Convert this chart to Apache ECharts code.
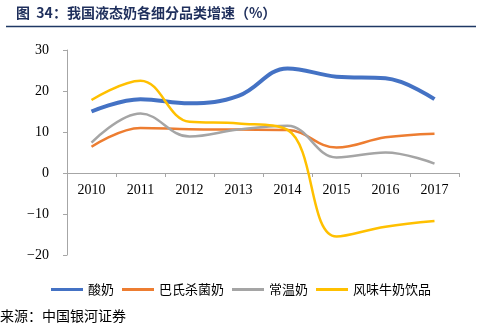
<!DOCTYPE html>
<html><head><meta charset="utf-8">
<script src="https://cdn.jsdelivr.net/npm/echarts@6/dist/echarts.min.js"></script>
<style>html,body{margin:0;padding:0;background:#fff}#c{width:477px;height:327px}</style>
</head><body><div id="c"></div>
<script>
const categories = ['2010','2011','2012','2013','2014','2015','2016','2017'];
const yogurt = [15.0, 18.0, 17.0, 18.8, 25.5, 23.5, 23.1, 18.0];
const pasteurized = [6.4, 11.0, 10.7, 10.6, 10.5, 6.2, 8.7, 9.6];
const ambient = [7.4, 14.5, 8.9, 10.6, 11.5, 3.8, 5.0, 2.3];
const flavored = [17.8, 22.5, 12.5, 12.1, 10.5, -15.5, -13.1, -11.7];
const seriesNames = ['酸奶','巴氏杀菌奶','常温奶','风味牛奶饮品'];
const yTicks = [-20, -10, 0, 10, 20, 30];

const colors = ['#4472c4','#ed7d31','#a5a5a5','#ffc000'];
const widths = [4, 2.5, 2.5, 2.5];
const gridTop = 50, gridBottom = 72, H = 327;
const yMin = yTicks[0], yMax = yTicks[yTicks.length-1];
const plotH = H - gridTop - gridBottom;
const zeroFromBottom = plotH * (0 - yMin) / (yMax - yMin);

const chart = echarts.init(document.getElementById('c'), null, {renderer:'canvas'});
const serif = '"Liberation Serif","DejaVu Serif",serif';
const cjk = '"Noto Sans CJK SC","Noto Sans",sans-serif';
function mk(i, data){
  return {name:seriesNames[i], type:'line', data, smooth:0.4, symbol:'none', showSymbol:false,
    lineStyle:{color:colors[i], width:widths[i]}, itemStyle:{color:colors[i]}};
}
chart.setOption({
  animation:false,
  title:{text:'图  34：我国液态奶各细分品类增速（%）', left:16, top:6, padding:0,
    textStyle:{fontFamily:cjk, fontSize:14, fontWeight:'bold', color:'#1f2f5c'}},
  graphic:[
    {type:'line', shape:{x1:6,y1:26.5,x2:476,y2:26.5}, style:{stroke:'#1f3864', lineWidth:1.5}},
    {type:'text', left:0, top:309, style:{text:'来源：中国银河证券', font:'14px "Noto Sans CJK SC"', fill:'#000'}}
  ],
  grid:{left:67, right:18, top:gridTop, bottom:gridBottom},
  legend:{left:46, top:278, itemWidth:32, itemHeight:3, itemGap:8,
    data:seriesNames.map((n,i)=>({name:n, icon:'rect', itemStyle:{color:colors[i]}})),
    textStyle:{fontFamily:cjk, fontSize:13, color:'#000'}},
  xAxis:[{type:'category', data:categories, boundaryGap:true,
    axisLine:{onZero:true, lineStyle:{color:'#a6a6a6', width:1}},
    axisTick:{show:true, inside:false, length:4, lineStyle:{color:'#a6a6a6'}},
    axisLabel:{fontFamily:serif, fontSize:14, color:'#000', margin:10 - zeroFromBottom}}],
  yAxis:{type:'value', min:yMin, max:yMax, interval:10,
    axisLine:{show:true, lineStyle:{color:'#a6a6a6'}},
    axisTick:{show:true, length:4, lineStyle:{color:'#a6a6a6'}},
    splitLine:{show:false},
    axisLabel:{fontFamily:serif, fontSize:14, color:'#000', margin:18,
      formatter:v=>v<0?'−'+Math.abs(v):String(v)}},
  series:[
    mk(0, yogurt), mk(1, pasteurized), mk(2, ambient), mk(3, flavored)
  ]
});
</script></body></html>
